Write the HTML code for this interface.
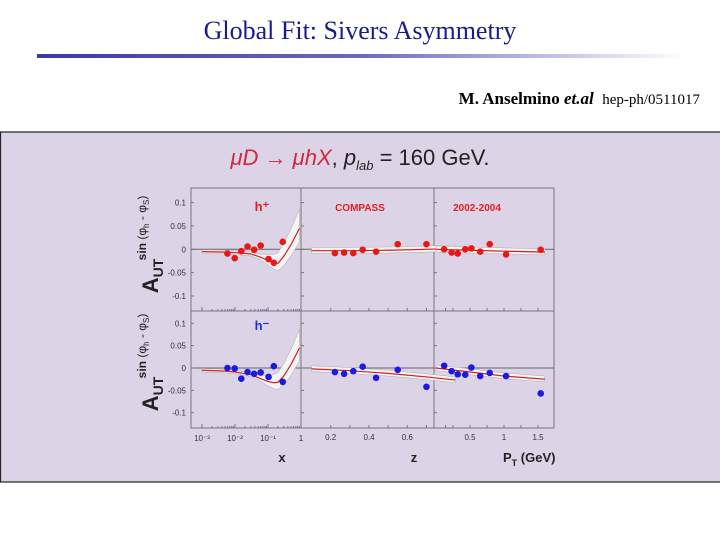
<!DOCTYPE html>
<html><head><meta charset="utf-8"><style>
body{margin:0;width:720px;height:540px;background:#fff;overflow:hidden;position:relative;font-family:"Liberation Serif",serif}
#title{position:absolute;left:0;width:720px;top:16px;text-align:center;font-size:26px;color:#1a1a8c}
#rule{position:absolute;left:37px;top:54px;width:650px;height:4px;background:linear-gradient(to right,#3a3aa8 0%,#6a6ac0 50%,#fff 100%)}
#cite{position:absolute;right:20px;top:89px;font-size:17px;color:#000}
#cite b{font-size:17px}#cite span{font-size:15px}
svg{position:absolute;left:0;top:0}
</style></head><body>
<div id="title">Global Fit: Sivers Asymmetry</div>
<div id="rule"></div>
<div id="cite"><b>M. Anselmino <i>et.al</i></b>&nbsp; <span>hep-ph/0511017</span></div>
<svg id="chart" width="720" height="540" font-family="Liberation Sans, sans-serif"></svg>
<script>
// x panel data (h+ / h-)
const xVals=[0.0059,0.0098,0.0155,0.024,0.038,0.06,0.104,0.15,0.28];
const xHp=[-0.009,-0.019,-0.004,0.006,-0.001,0.008,-0.021,-0.029,0.016];
const xHm=[0.0,-0.001,-0.024,-0.009,-0.013,-0.010,-0.020,0.004,-0.031];
// z panel data
const zVals=[0.222,0.27,0.318,0.367,0.437,0.55,0.70];
const zHp=[-0.008,-0.007,-0.008,-0.001,-0.005,0.011,0.011];
const zHm=[-0.009,-0.013,-0.007,0.003,-0.022,-0.004,-0.042];
// pT panel data
const pVals=[0.12,0.23,0.32,0.43,0.52,0.65,0.79,1.03,1.54];
const pHp=[0.0,-0.007,-0.009,0.0,0.002,-0.005,0.011,-0.011,-0.001];
const pHm=[0.005,-0.007,-0.014,-0.015,0.001,-0.018,-0.011,-0.018,-0.057];
// model curves
const cxX=[0.001,0.005,0.01,0.03,0.06,0.1,0.15,0.2,0.3,0.5,0.9];
const cxHp=[-0.005,-0.006,-0.007,-0.01,-0.017,-0.024,-0.029,-0.03,-0.015,0.01,0.045];
const cxHm=[-0.005,-0.007,-0.009,-0.015,-0.024,-0.03,-0.033,-0.032,-0.018,0.008,0.045];
const czZ=[0.1,0.3,0.5,0.7,0.85];
const czHp=[-0.003,-0.003,-0.002,0.0,0.002];
const czHm=[-0.002,-0.006,-0.012,-0.02,-0.027];
const cpP=[0,0.5,1.0,1.6];
const cpHp=[0.0,-0.002,-0.004,-0.006];
const cpHm=[0.0,-0.009,-0.018,-0.025];
const yTicks=[0.1,0.05,0,-0.05,-0.1];
const yTickLabels=["0.1","0.05","0","-0.05","-0.1"];

const S=document.getElementById('chart');const NS="http://www.w3.org/2000/svg";
function el(t,a,txt){const e=document.createElementNS(NS,t);for(const k in a)e.setAttribute(k,a[k]);if(txt!==undefined)e.textContent=txt;S.appendChild(e);return e;}
let e=el('rect',{x:0.5,y:132,width:760,height:350,fill:'#ddd3e6',stroke:'#222','stroke-width':1.2});

e=el('text',{x:360,y:165,'text-anchor':'middle','font-size':22,fill:'#222'});

e.innerHTML='<tspan fill="#d0283c" font-style="italic">μD → μhX</tspan>, <tspan font-style="italic">p</tspan><tspan font-size="13" dy="5" font-style="italic">lab</tspan><tspan dy="-5"> = 160 GeV.</tspan>';
const L=[191,301,434,554],T=188,M=311,B=428;
const rowZero=[249.3,368],rowPx=[467,447];
function yS(r,v){return rowZero[r]-v*rowPx[r];}
const xS=[v=>202+(Math.log10(v)+3)*33, v=>330.7+(v-0.2)*191.5, v=>436+v*68];
e=el('rect',{x:L[0],y:T,width:L[3]-L[0],height:B-T,fill:'#ddd3e6',stroke:'#777','stroke-width':1});

[L[1],L[2]].forEach(x=>{const d=el('line',{x1:x,y1:T,x2:x,y2:B,stroke:'#777'});});
e=el('line',{x1:L[0],y1:M,x2:L[3],y2:M,stroke:'#777'});
for(let r=0;r<2;r++){
 e=el('line',{x1:L[0],y1:yS(r,0),x2:L[3],y2:yS(r,0),stroke:'#666','stroke-width':1});
 
 yTicks.forEach((t,i)=>{for(let p=0;p<3;p++){const tk=el('line',{x1:L[p],y1:yS(r,t),x2:L[p]+3,y2:yS(r,t),stroke:'#777'});}
  const lb=el('text',{x:186,y:yS(r,t)+3,'text-anchor':'end','font-size':8,fill:'#333'},yTickLabels[i]);
  });
 const cy=r?368:250;
 const ya=el('text',{transform:`translate(158,${cy+26}) rotate(-90)`,'text-anchor':'middle','font-size':22,'font-weight':'bold',fill:'#222'});
 
 ya.innerHTML='A<tspan font-size="14" dy="5">UT</tspan>';
 const ys=el('text',{transform:`translate(146,${cy-22}) rotate(-90)`,'text-anchor':'middle','font-size':12,'font-weight':'bold',fill:'#222'});
 
 ys.innerHTML='sin <tspan font-weight="normal">(φ</tspan><tspan font-size="8" dy="3" font-weight="normal">h</tspan><tspan dy="-3" font-weight="normal"> - φ</tspan><tspan font-size="8" dy="3" font-weight="normal">S</tspan><tspan dy="-3" font-weight="normal">)</tspan>';
}
const xtl=[[0.001,"10⁻³"],[0.01,"10⁻²"],[0.1,"10⁻¹"],[1,"1"]];
xtl.forEach(([v,s])=>{const t=el('text',{x:xS[0](v),y:441,'text-anchor':'middle','font-size':8,fill:'#333'},s);});
[0.2,0.4,0.6].forEach(v=>{const t=el('text',{x:xS[1](v),y:440,'text-anchor':'middle','font-size':8,fill:'#333'},String(v));});
[[0.5,"0.5"],[1,"1"],[1.5,"1.5"]].forEach(([v,s])=>{const t=el('text',{x:xS[2](v),y:440,'text-anchor':'middle','font-size':8,fill:'#333'},s);});
[0.2,0.3,0.4,0.5,0.6,0.7,0.8].forEach(v=>{[B,M].forEach(y=>{const t=el('line',{x1:xS[1](v),y1:y,x2:xS[1](v),y2:y-3,stroke:'#777'});});});
[0.25,0.5,0.75,1,1.25,1.5].forEach(v=>{[B,M].forEach(y=>{const t=el('line',{x1:xS[2](v),y1:y,x2:xS[2](v),y2:y-3,stroke:'#777'});});});
[0.001,0.01,0.1].forEach(d=>{for(let k=1;k<10;k++){[B,M].forEach(y=>{const t=el('line',{x1:xS[0](d*k),y1:y,x2:xS[0](d*k),y2:y-(k==1?4:2),stroke:'#777'});});}});
[["x",282],["z",414],["P",503]].forEach(([s,x],i)=>{const t=el('text',{x:x,y:462,'text-anchor':'middle','font-size':13,'font-weight':'bold',fill:'#222'});t.innerHTML=i<2?s:'P<tspan font-size="9" dy="4">T</tspan><tspan dy="-4"> (GeV)</tspan>';if(i==2)t.setAttribute('text-anchor','start');});
[["h⁺",262,211,'#e02020'],["COMPASS",360,211,'#e02020'],["2002-2004",477,211,'#e02020'],["h⁻",262,330,'#2030d0']].forEach(([s,x,y,c])=>{const t=el('text',{x:x,y:y,'text-anchor':'middle','font-size':s.length>3?10:13,'font-weight':'bold',fill:c},s);});
function curve(r,p,xs,ys){
 const up=xs.map((x,i)=>[xS[p](x),yS(r,ys[i]+0.004+(p==0?Math.max(0,Math.log10(x)+1.3)*0.03:0.003))]);
 const dn=xs.map((x,i)=>[xS[p](x),yS(r,ys[i]-0.004-(p==0?Math.max(0,Math.log10(x)+1.3)*0.02:0.002))]);
 const band=el('polygon',{points:up.concat(dn.reverse()).map(q=>q.join(',')).join(' '),fill:'#f4f4f4',stroke:'#aaa','stroke-width':0.5});
 
 const l=el('polyline',{points:xs.map((x,i)=>xS[p](x)+','+yS(r,ys[i])).join(' '),fill:'none',stroke:'#d02020','stroke-width':1.2});
 
}
function pts(r,p,xs,ys,c){xs.forEach((x,i)=>{const d=el('circle',{cx:xS[p](x),cy:yS(r,ys[i]),r:3.3,fill:c});});}
curve(0,0,cxX,cxHp);curve(1,0,cxX,cxHm);curve(0,1,czZ,czHp);curve(1,1,czZ,czHm);curve(0,2,cpP,cpHp);curve(1,2,cpP,cpHm);
const R='#e81818',Bl='#1a1ae0';
pts(0,0,xVals,xHp,R);pts(1,0,xVals,xHm,Bl);pts(0,1,zVals,zHp,R);pts(1,1,zVals,zHm,Bl);pts(0,2,pVals,pHp,R);pts(1,2,pVals,pHm,Bl);
</script>
</body></html>
